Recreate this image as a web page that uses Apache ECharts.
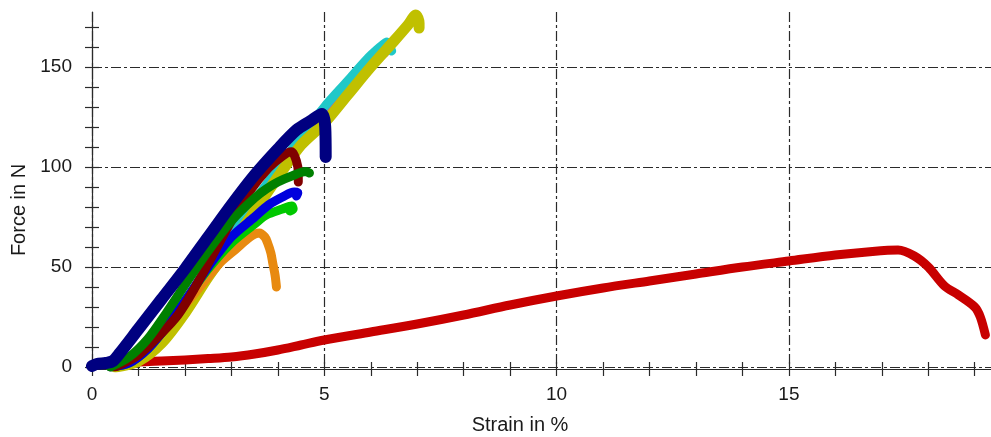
<!DOCTYPE html>
<html>
<head>
<meta charset="utf-8">
<script src="https://cdn.jsdelivr.net/npm/echarts@6/dist/echarts.min.js"></script>
<style>html,body{margin:0;padding:0;background:#fff}#c{width:991px;height:437px}</style>
</head>
<body>
<div id="c"></div>
<script>
// ---- data (strain in %, force in N) ----
var xTickLabels = [0, 5, 10, 15];
var yTickLabels = [0, 50, 100, 150];
var xMinorTicks = [0,1,2,3,4,5,6,7,8,9,10,11,12,13,14,15,16,17,18,19];
var yMinorTicks = [0,10,20,30,40,50,60,70,80,90,100,110,120,130,140,150,160,170];

var redSpecimen = [[0.8,2],[1,2.5],[1.5,3],[2,3.5],[2.5,4.2],[3,5],[3.5,6.5],[4,8.5],[4.5,11],[5,13.5],[6,17.5],[7,21.5],[8,26],[9,31],[10,35.5],[11,39.5],[12,43],[13,46.5],[14,50],[15,53],[16,56],[16.8,57.8],[17.35,58.5],[17.7,55.5],[18,50],[18.35,40.5],[18.65,36],[19,30],[19.12,25],[19.23,16]];
var magentaSpecimen = [[0.5,0],[1,5],[2,29],[3,64],[4,97],[5,127],[6,152],[6.3,157]];
var cyanSpecimen = [[0.5,0],[1,5],[1.5,15],[2,30],[2.5,48],[3,65],[3.5,83],[4,99],[4.5,115],[5,130],[5.5,143],[5.9,153.5],[6.2,160],[6.35,162.5],[6.45,158]];
var yellowSpecimen = [[0.5,0],[1,3],[1.5,12],[2,27],[2.5,45],[3,61],[3.5,78],[4,95],[4.5,111],[5,122],[5.5,136],[6,150],[6.5,163],[6.8,171],[6.97,176],[7.04,172],[7.04,169.5]];
var orangeSpecimen = [[0.4,0],[0.8,2],[1.2,9],[1.6,20],[2,31],[2.5,45],[2.75,52],[3.1,59],[3.4,65],[3.6,67],[3.72,65],[3.78,62],[3.85,57],[3.89,52],[3.94,46],[3.97,40]];
var lightGreenSpecimen = [[0.4,0],[0.8,2],[1.2,9],[1.6,20],[2,33],[2.5,49],[3,62],[3.5,71.5],[3.75,76],[4.1,79],[4.3,80.5],[4.33,79],[4.26,78]];
var blueSpecimen = [[0.4,0],[0.8,2],[1.2,9],[1.6,20],[2,33],[2.5,50],[3,65],[3.5,75],[3.8,81],[4.1,85],[4.35,87.5],[4.43,87],[4.4,85.5]];
var darkRedSpecimen = [[0.5,0],[1,6],[1.5,17],[1.85,26],[2.2,39],[2.6,56],[3,73],[3.4,88],[3.8,99.5],[4.1,105.5],[4.29,107.6],[4.4,103],[4.44,97],[4.44,92.5]];
var greenSpecimen = [[0.4,0],[0.8,5],[1.2,14],[1.6,27],[2,41],[2.5,58],[3,73],[3.5,84.5],[3.75,89],[4,92.5],[4.3,95.5],[4.6,97.7],[4.68,97]];
var navySpecimen = [[0,0.5],[0.1,1.5],[0.3,2],[0.45,3],[0.6,7],[1,19],[1.5,34],[2,49],[2.5,65],[3,81],[3.5,96],[4,109],[4.4,118.5],[4.7,123],[4.95,126.5],[5.02,120],[5.03,105]];

var seriesList = [
  {data: redSpecimen, color: '#c80000', width: 9},
  {data: magentaSpecimen, color: '#c040c0', width: 9},
  {data: cyanSpecimen, color: '#20c8c8', width: 9},
  {data: yellowSpecimen, color: '#c0c000', width: 11},
  {data: orangeSpecimen, color: '#e88a10', width: 9},
  {data: lightGreenSpecimen, color: '#00c800', width: 9},
  {data: blueSpecimen, color: '#0000dd', width: 9},
  {data: darkRedSpecimen, color: '#800000', width: 9},
  {data: greenSpecimen, color: '#008000', width: 9},
  {data: navySpecimen, color: '#000080', width: 12}
];

var XMIN = 0, XMAX = 19.35, YMIN = 0, YMAX = 177.5;
var axisColor = '#2a2a2a';
var font = '"Liberation Sans", Arial, sans-serif';
var gridDash = [10, 3, 3, 3];

var chart = echarts.init(document.getElementById('c'), null, {renderer: 'canvas'});

function tickAxis(kind, inside, ticks, showLine, offset) {
  return {
    type: 'value', min: kind === 'x' ? XMIN : YMIN, max: kind === 'x' ? XMAX : YMAX,
    position: kind === 'x' ? 'bottom' : 'left', offset: offset || 0,
    axisLine: {show: showLine, onZero: false, lineStyle: {color: axisColor, width: 1.2}},
    axisTick: {show: true, inside: inside, length: 7, customValues: ticks, lineStyle: {color: axisColor, width: 1.2}},
    axisLabel: {show: false},
    splitLine: {show: false}
  };
}

var option = {
  animation: false,
  backgroundColor: '#fff',
  grid: {left: 92, top: 12, width: XMAX * 46.6, height: 355, containLabel: false},
  xAxis: [
    {
      type: 'value', min: XMIN, max: XMAX, interval: 5, position: 'bottom',
      axisLine: {show: false}, axisTick: {show: false},
      axisLabel: {show: true, margin: 18, customValues: xTickLabels,
        color: '#1a1a1a', fontSize: 19, fontFamily: font},
      splitLine: {show: true, showMaxLine: false, lineStyle: {color: axisColor, width: 1.2, type: gridDash}}
    },
    tickAxis('x', false, xMinorTicks, true, 2),
    tickAxis('x', true, xMinorTicks, false, 2)
  ],
  yAxis: [
    {
      type: 'value', min: YMIN, max: YMAX, interval: 50, position: 'left',
      axisLine: {show: false}, axisTick: {show: false},
      axisLabel: {show: true, margin: 20, customValues: yTickLabels,
        color: '#1a1a1a', fontSize: 19, fontFamily: font},
      splitLine: {show: true, showMaxLine: false, lineStyle: {color: axisColor, width: 1.2, type: gridDash}}
    },
    tickAxis('y', false, yMinorTicks, true, 0),
    tickAxis('y', true, yMinorTicks, false, 0)
  ],
  graphic: [
    {type: 'text', x: 520, y: 425, style: {text: 'Strain in %', fill: '#1a1a1a', fontSize: 20, fontFamily: font, align: 'center', verticalAlign: 'middle'}},
    {type: 'text', x: 19, y: 210, rotation: Math.PI / 2, style: {text: 'Force in N', fill: '#1a1a1a', fontSize: 20, fontFamily: font, align: 'center', verticalAlign: 'middle'}}
  ],
  series: seriesList.map(function (s) {
    return {
      type: 'line', xAxisIndex: 0, yAxisIndex: 0, data: s.data, showSymbol: false, symbol: 'none',
      smooth: 0.3, clip: true,
      lineStyle: {color: s.color, width: s.width, cap: 'round', join: 'round'},
      itemStyle: {color: s.color}
    };
  })
};
chart.setOption(option);
</script>
</body>
</html>
